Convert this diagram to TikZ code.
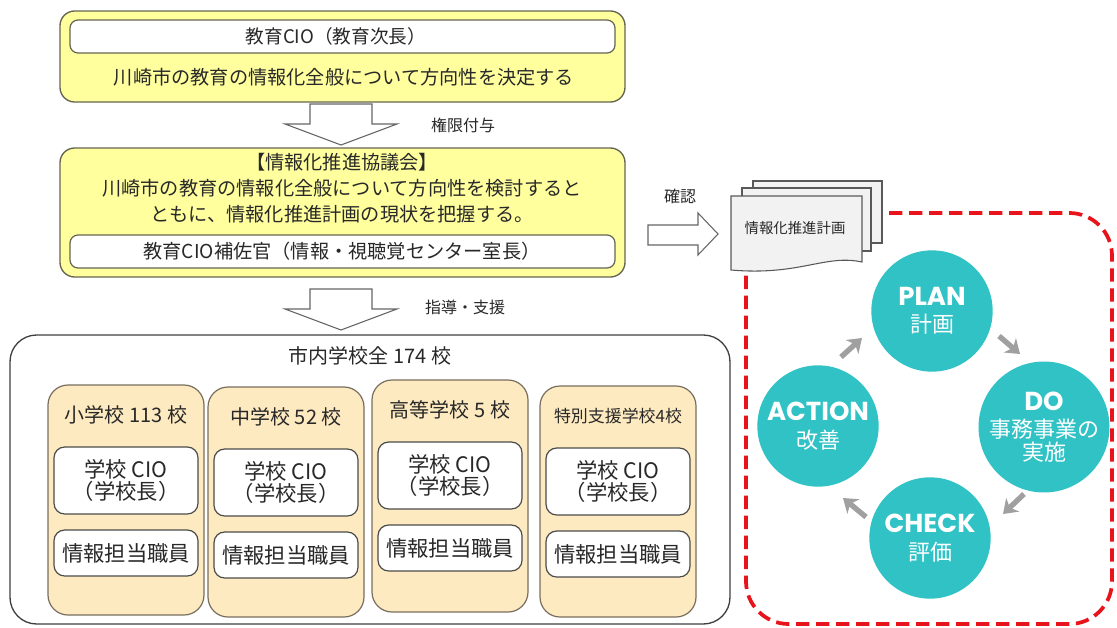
\documentclass[tikz,border=0pt]{standalone}
\usepackage{fontspec}
\setmainfont{Noto Sans CJK JP}
\newfontfamily\popf{Poppins}
\usetikzlibrary{arrows.meta}
\definecolor{yelfill}{RGB}{255,255,158}
\definecolor{yelline}{RGB}{100,100,80}
\definecolor{tanfill}{RGB}{253,234,192}
\definecolor{tanline}{RGB}{120,110,95}
\definecolor{cteal}{RGB}{48,194,197}
\definecolor{cred}{RGB}{232,20,27}
\definecolor{cgray}{RGB}{160,160,160}
\definecolor{docfill}{RGB}{242,242,242}
\definecolor{txt}{RGB}{40,40,40}
\tikzset{
  ybox/.style={fill=yelfill,draw=yelline,line width=1pt,rounded corners=11pt},
  wbox/.style={fill=white,draw=yelline,line width=0.9pt,rounded corners=6pt},
  bigbox/.style={fill=white,draw=black!75,line width=1pt,rounded corners=20pt},
  colbox/.style={fill=tanfill,draw=tanline,line width=0.9pt,rounded corners=15pt},
  ibox/.style={fill=white,draw=black!70,line width=0.9pt,rounded corners=8pt},
  hollow/.style={fill=white,draw=black!60,line width=0.8pt},
  lbl/.style={text=txt,inner sep=0pt,align=center},
  circ/.style={circle,fill=cteal,minimum size=91pt,inner sep=0pt,text=white,align=center,font=\fontsize{16.5}{17.5}\selectfont},
  cyc/.style={draw=cgray,line width=4pt,-{Stealth[length=10pt,width=14pt,inset=3pt]}},
  doc/.style={fill=docfill,draw=black!65,line width=0.8pt},
}
\newcommand{\eng}[1]{{\popf\bfseries\fontsize{19.5}{22}\selectfont #1}}
\begin{document}
\begin{tikzpicture}[x=0.75pt,y=-0.75pt]
\useasboundingbox (0,0) rectangle (1117,628);
% top box
\draw[ybox] (60,11) rectangle (625,102);
\draw[wbox] (70,20) rectangle (615,53);
\node[lbl,font=\fontsize{14}{16}\selectfont] (cio) at (336,36) {教育CIO（教育次長）};
\node[lbl,font=\fontsize{14.4}{16}\selectfont] (decide) at (344,77) {川崎市の教育の情報化全般について方向性を決定する};
% arrow 1
\draw[hollow] (310,104) -- (372,104) -- (372,124) -- (397,124) -- (341,145) -- (285,124) -- (310,124) -- cycle;
\node[lbl,font=\fontsize{12}{13}\selectfont] (auth) at (463,125) {権限付与};
% second box
\draw[ybox] (60,148) rectangle (625,277);
\node[lbl,font=\fontsize{14.4}{19.5}\selectfont] (council) at (342,188) {【情報化推進協議会】\\川崎市の教育の情報化全般について方向性を検討すると\\ともに、情報化推進計画の現状を把握する。};
\draw[wbox] (70,235) rectangle (615,268);
\node[lbl,font=\fontsize{14.4}{15}\selectfont] (assist) at (342,251) {教育CIO補佐官（情報・視聴覚センター室長）};
% arrow 2
\draw[hollow] (310,289) -- (372,289) -- (372,309) -- (397,309) -- (341,330) -- (285,309) -- (310,309) -- cycle;
\node[lbl,font=\fontsize{12}{13}\selectfont] (guide) at (465,307) {指導・支援};
% schools
\draw[bigbox] (10,335) rectangle (730,624);
\node[lbl,font=\fontsize{15}{15}\selectfont] (all) at (370,356) {市内学校全 174 校};
\foreach \n/\xa/\ya/\yb/\ttl/\fs in {1/48/385/615/小学校 113 校/15, 2/208/387/617/中学校 52 校/15, 3/372/380/612/高等学校 5 校/15, 4/540/386/617/特別支援学校4校/12.7}{
  \draw[colbox] (\xa,\ya) rectangle ({\xa+156},\yb);
  \node[lbl,font=\fontsize{\fs}{15}\selectfont] (t\n) at ({\xa+78},{\ya+30}) {\ttl};
  \draw[ibox] ({\xa+6},{\ya+62}) rectangle ({\xa+150},{\ya+129});
  \node[lbl,font=\fontsize{16}{17}\selectfont] (c\n) at ({\xa+78},{\ya+95.5}) {学校 CIO\\（学校長）};
  \draw[ibox] ({\xa+6},{\ya+145}) rectangle ({\xa+150},{\ya+191});
  \node[lbl,font=\fontsize{16}{17}\selectfont] (s\n) at ({\xa+78},{\ya+168}) {情報担当職員};
}
% confirm arrow
\node[lbl,font=\fontsize{12}{13}\selectfont] (confirm) at (680,196) {確認};
\draw[hollow] (648,225) -- (698,225) -- (698,213) -- (718,234) -- (698,255) -- (698,245) -- (648,245) -- cycle;
% red dashed PDCA frame
\draw[cred,line width=2.8pt,dash pattern=on 10pt off 5pt,rounded corners=32pt] (746,213) rectangle (1112,624);
% document stack
\draw[doc] (753,181) rectangle (882,243);
\draw[doc] (742,188) rectangle (871,251);
\draw[doc] (731,196) -- (862,196) -- (862,262) .. controls (825,254) and (800,276) .. (731,270) -- cycle;
\node[lbl,font=\fontsize{10.8}{11}\selectfont] (plandoc) at (795,228) {情報化推進計画};
% circles
\node[circ] (plan) at (932,311) {\eng{PLAN}\\[3pt]計画};
\node[circ] (do) at (1044,427) {\eng{DO}\\[3pt]事務事業の\\実施};
\node[circ] (check) at (930,538) {\eng{CHECK}\\[3pt]評価};
\node[circ] (action) at (818,426) {\eng{ACTION}\\[3pt]改善};
% cycle arrows
\coordinate (a1s) at (999,336); \coordinate (a1e) at (1020,354);
\coordinate (a2s) at (1024,494); \coordinate (a2e) at (1003,514);
\coordinate (a3s) at (866,517); \coordinate (a3e) at (843,498);
\coordinate (a4s) at (841,357); \coordinate (a4e) at (862,338);
\draw[cyc] (a1s) -- (a1e);
\draw[cyc] (a2s) -- (a2e);
\draw[cyc] (a3s) -- (a3e);
\draw[cyc] (a4s) -- (a4e);
\end{tikzpicture}
\end{document}
